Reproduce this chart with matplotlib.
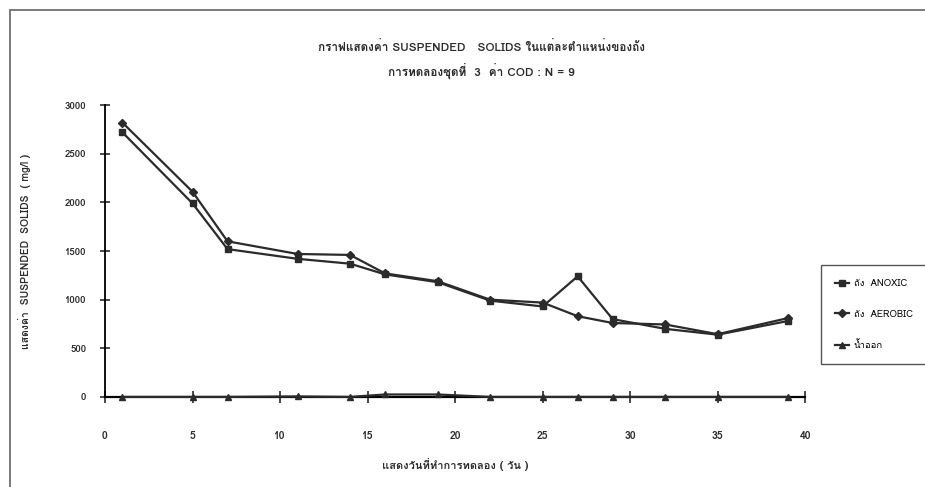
import matplotlib
matplotlib.use("Agg")
import matplotlib.pyplot as plt
from matplotlib import font_manager
from matplotlib.ft2font import FT2Font
from matplotlib.patches import Rectangle

# pick an installed font that has Thai glyphs, if any
thai_font = None
for f in font_manager.fontManager.ttflist:
    try:
        if 0x0E01 in FT2Font(f.fname).get_charmap():
            thai_font = f.name
            break
    except Exception:
        pass
families = ([thai_font] if thai_font else []) + ["DejaVu Sans"]
plt.rcParams["font.family"] = families

days = [1, 5, 7, 11, 14, 16, 19, 22, 25, 27, 29, 32, 35, 39]
anoxic = [2720, 1990, 1520, 1420, 1370, 1260, 1180, 990, 930, 1240, 800, 700, 640, 780]
aerobic = [2820, 2110, 1600, 1470, 1460, 1270, 1190, 1000, 970, 830, 760, 745, 645, 810]
effluent = [0, 0, 0, 5, 0, 25, 25, 0, 0, 0, 0, 0, 0, 0]

labels = ["ถัง  ANOXIC", "ถัง  AEROBIC", "น้ำออก"]
x_ticks = [0, 5, 10, 15, 20, 25, 30, 35, 40]
y_ticks = [0, 500, 1000, 1500, 2000, 2500, 3000]

fig = plt.figure(figsize=(9.25, 4.87), dpi=100)
fig.patch.set_facecolor("white")

# scanned page frame
fig.add_artist(Rectangle((0.011, -0.05), 1.2, 1.03, transform=fig.transFigure,
                         fill=False, edgecolor="#7a7a7a", lw=1.4))

ax = fig.add_axes([0.1135, 0.185, 0.757, 0.599])
kw = dict(color="#2b2b2b", lw=1.6, clip_on=False, zorder=3)
ax.plot(days, anoxic, marker="s", ms=4.5, label=labels[0], **kw)
ax.plot(days, aerobic, marker="D", ms=4, label=labels[1], **kw)
ax.plot(days, effluent, marker="^", ms=4.5, label=labels[2], **kw)

ax.set_xlim(0, 40)
ax.set_ylim(0, 3000)
ax.set_xticks(x_ticks)
ax.set_yticks(y_ticks)
ax.spines["top"].set_visible(False)
ax.spines["right"].set_visible(False)
ax.spines["left"].set_linewidth(1.3)
ax.spines["bottom"].set_linewidth(1.6)
ax.tick_params(axis="x", direction="inout", length=9, width=1.2, pad=20,
               labelsize=7.5, colors="#2b2b2b")
ax.tick_params(axis="y", direction="inout", length=7, width=1.2, pad=10,
               labelsize=7, colors="#2b2b2b")
for t in ax.get_xticklabels() + ax.get_yticklabels():
    t.set_fontweight("bold")

ax.set_xlabel("แสดงวันที่ทำการทดลอง ( วัน )", fontsize=8, fontweight="bold",
              labelpad=12, color="#2b2b2b")
ax.set_ylabel("แสดงค่า  SUSPENDED  SOLIDS  ( mg/l )", fontsize=7.5,
              fontweight="bold", labelpad=24, color="#2b2b2b")

fig.text(0.52, 0.905, "กราฟแสดงค่า SUSPENDED   SOLIDS ในแต่ละตำแหน่งของถัง",
         ha="center", va="center", fontsize=8.5, fontweight="bold", color="#2b2b2b")
fig.text(0.52, 0.855, "การทดลองชุดที่  3  ค่า COD : N = 9",
         ha="center", va="center", fontsize=8.5, fontweight="bold", color="#2b2b2b")

leg = fig.legend(loc="upper left", bbox_to_anchor=(0.884, 0.462), fontsize=6.8,
                 frameon=True, fancybox=False, edgecolor="#2b2b2b",
                 labelspacing=2.3, handlelength=1.5, handletextpad=0.5,
                 borderpad=1.5, borderaxespad=0.3)
leg.get_frame().set_linewidth(1.0)

fig.savefig("out.png", dpi=100, facecolor="white")
